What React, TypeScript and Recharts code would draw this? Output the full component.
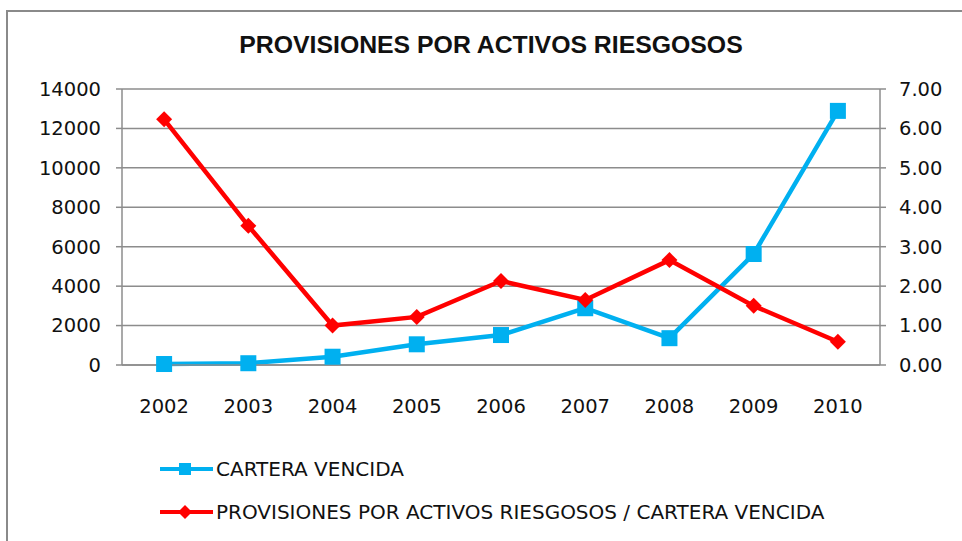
import { CartesianGrid, Line, LineChart, XAxis, YAxis } from "recharts";

const YEARS = ["2002", "2003", "2004", "2005", "2006", "2007", "2008", "2009", "2010"];
const CARTERA_VENCIDA = [50, 90, 420, 1050, 1520, 2880, 1360, 5630, 12890];
const PROVISIONES_RATIO = [6.23, 3.53, 1.0, 1.22, 2.13, 1.65, 2.66, 1.5, 0.59];
const LEFT_TICKS = [0, 2000, 4000, 6000, 8000, 10000, 12000, 14000];
const RIGHT_TICKS = [0, 1, 2, 3, 4, 5, 6, 7];

const BLUE = "#00B0F0";
const RED = "#FF0000";
const GRID = "#8c8c8c";
const FONT = "'DejaVu Sans', Verdana, sans-serif";
const TITLE_FONT = "'Liberation Sans', Arial, sans-serif";

const data = YEARS.map((year, i) => ({
  idx: i,
  year,
  cartera: CARTERA_VENCIDA[i],
  ratio: PROVISIONES_RATIO[i],
}));

const centerTicks = YEARS.map((_, i) => i);
const edgeTicks = [...YEARS.map((_, i) => i - 0.5), YEARS.length - 0.5];

function SquareDot(props: any) {
  const { cx, cy } = props;
  if (cx == null || cy == null) return null;
  return <rect x={cx - 8} y={cy - 8} width={16} height={16} fill={BLUE} />;
}

function DiamondDot(props: any) {
  const { cx, cy } = props;
  if (cx == null || cy == null) return null;
  const r = 8;
  return (
    <polygon
      points={`${cx},${cy - r} ${cx + r},${cy} ${cx},${cy + r} ${cx - r},${cy}`}
      fill={RED}
    />
  );
}

function LegendItem({ color, label, marker }: { color: string; label: string; marker: "square" | "diamond" }) {
  return (
    <div style={{ display: "flex", alignItems: "center", height: 24 }}>
      <svg width={55} height={24}>
        <line x1={1} y1={12} x2={54} y2={12} stroke={color} strokeWidth={4} />
        {marker === "square" ? (
          <rect x={20} y={6} width={12} height={12} fill={color} />
        ) : (
          <polygon points="26,5 33,12 26,19 19,12" fill={color} />
        )}
      </svg>
      <span style={{ fontSize: 20, color: "#111", marginLeft: 2, lineHeight: "24px" }}>{label}</span>
    </div>
  );
}

const tickStyle = { fill: "#111", fontSize: 19.5, fontFamily: FONT };

export default function App() {
  return (
    <div
      style={{
        position: "absolute",
        left: 0,
        top: 0,
        width: 962,
        height: 541,
        overflow: "hidden",
        background: "#fff",
        fontFamily: FONT,
      }}
    >
      <div
        style={{
          position: "absolute",
          left: 6,
          top: 10,
          width: 1000,
          height: 600,
          border: "2px solid #8a8a8a",
        }}
      />
      <div
        style={{
          position: "absolute",
          left: 0,
          width: 982,
          top: 30,
          textAlign: "center",
          fontSize: 24.8,
          lineHeight: "30px",
          fontWeight: "bold",
          fontFamily: TITLE_FONT,
          color: "#111",
        }}
      >
        PROVISIONES POR ACTIVOS RIESGOSOS
      </div>
      <div style={{ position: "absolute", left: 0, top: 0 }}>
        <LineChart
          width={962}
          height={541}
          data={data}
          margin={{ top: 89, right: 22, bottom: 116, left: 62 }}
        >
          <CartesianGrid vertical={false} stroke={GRID} strokeWidth={1.5} yAxisId="left" />
          <XAxis
            dataKey="idx"
            type="number"
            xAxisId="main"
            domain={[-0.5, YEARS.length - 0.5]}
            ticks={centerTicks}
            tickFormatter={(v: number) => YEARS[v] ?? ""}
            axisLine={{ stroke: GRID, strokeWidth: 1.5 }}
            tickLine={false}
            tickMargin={28}
            height={60}
            interval={0}
            tick={tickStyle}
          />
          <XAxis
            dataKey="idx"
            type="number"
            xAxisId="edges"
            domain={[-0.5, YEARS.length - 0.5]}
            ticks={edgeTicks}
            tickFormatter={() => ""}
            axisLine={false}
            tickLine={{ stroke: GRID, strokeWidth: 1.5 }}
            tickSize={7}
            height={0}
            interval={0}
          />
          <YAxis
            yAxisId="left"
            domain={[0, 14000]}
            ticks={LEFT_TICKS}
            width={60}
            axisLine={{ stroke: GRID, strokeWidth: 1.5 }}
            tickLine={{ stroke: GRID, strokeWidth: 1.5 }}
            tickSize={6}
            tickMargin={15}
            interval={0}
            tick={tickStyle}
          />
          <YAxis
            yAxisId="right"
            orientation="right"
            domain={[0, 7]}
            ticks={RIGHT_TICKS}
            tickFormatter={(v: number) => v.toFixed(2)}
            width={60}
            axisLine={{ stroke: GRID, strokeWidth: 1.5 }}
            tickLine={{ stroke: GRID, strokeWidth: 1.5 }}
            tickSize={6}
            tickMargin={13}
            interval={0}
            tick={tickStyle}
          />
          <Line
            xAxisId="main"
            yAxisId="left"
            dataKey="cartera"
            stroke={BLUE}
            strokeWidth={4.5}
            dot={<SquareDot />}
            activeDot={false}
            isAnimationActive={false}
          />
          <Line
            xAxisId="main"
            yAxisId="right"
            dataKey="ratio"
            stroke={RED}
            strokeWidth={4.5}
            dot={<DiamondDot />}
            activeDot={false}
            isAnimationActive={false}
          />
        </LineChart>
      </div>
      <div style={{ position: "absolute", left: 159, top: 457 }}>
        <LegendItem color={BLUE} label="CARTERA VENCIDA" marker="square" />
      </div>
      <div style={{ position: "absolute", left: 159, top: 500 }}>
        <LegendItem
          color={RED}
          label="PROVISIONES POR ACTIVOS RIESGOSOS / CARTERA VENCIDA"
          marker="diamond"
        />
      </div>
    </div>
  );
}
